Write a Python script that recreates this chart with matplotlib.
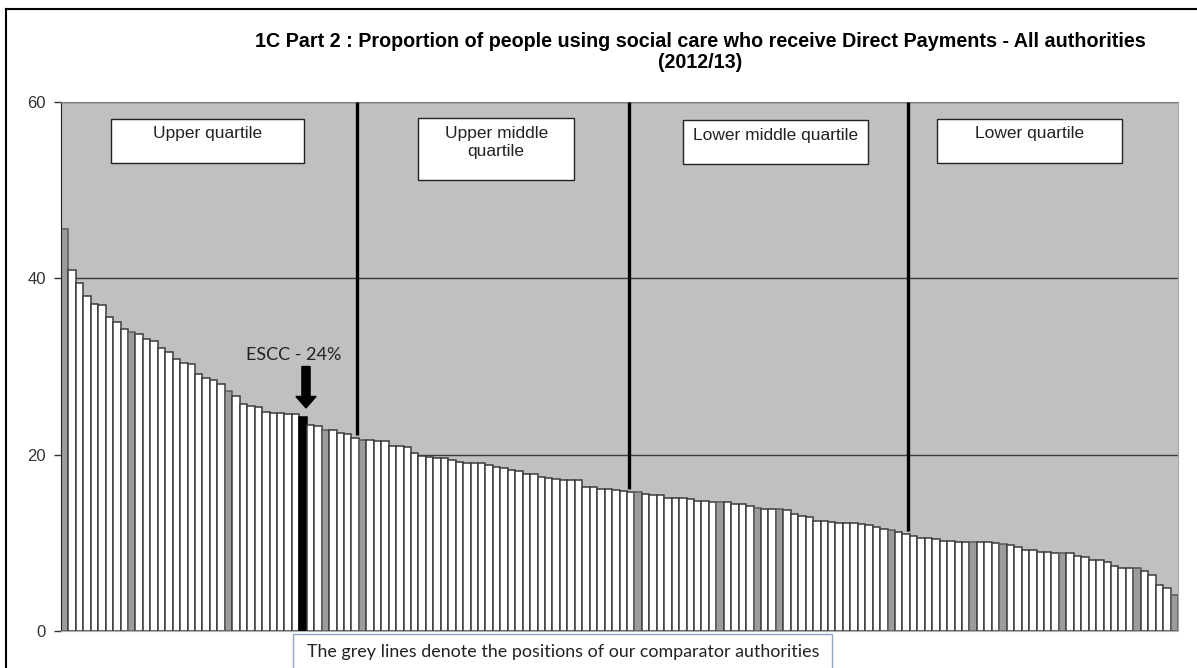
import numpy as np
import matplotlib
matplotlib.use("Agg")
from matplotlib import pyplot as plt
from matplotlib.patches import Rectangle, FancyArrow
from matplotlib.lines import Line2D

plt.rcParams['font.family'] = ['Liberation Sans', 'DejaVu Sans']

# % of social care users receiving Direct Payments, all authorities, sorted high to low
values = [
    45.6, 41.0, 39.5, 38.0, 37.1, 37.0, 35.6, 35.0, 34.2, 33.9,
    33.7, 33.1, 32.9, 32.1, 31.6, 30.8, 30.4, 30.3, 29.1, 28.7,
    28.5, 28.0, 27.2, 26.6, 25.8, 25.5, 25.4, 24.8, 24.7, 24.7,
    24.6, 24.6, 24.3, 23.4, 23.3, 22.8, 22.8, 22.5, 22.3, 21.9,
    21.7, 21.7, 21.6, 21.5, 21.0, 21.0, 20.9, 20.2, 19.9, 19.7,
    19.6, 19.6, 19.4, 19.2, 19.1, 19.0, 19.0, 18.85, 18.6, 18.5,
    18.3, 18.2, 17.8, 17.8, 17.5, 17.3, 17.2, 17.1, 17.1, 17.1,
    16.3, 16.3, 16.1, 16.1, 16.0, 15.9, 15.8, 15.8, 15.5, 15.4,
    15.4, 15.1, 15.1, 15.1, 15.0, 14.8, 14.7, 14.6, 14.6, 14.6,
    14.4, 14.4, 14.2, 13.9, 13.8, 13.8, 13.8, 13.7, 13.3, 13.1,
    12.9, 12.5, 12.5, 12.4, 12.3, 12.3, 12.3, 12.1, 12.0, 11.8,
    11.6, 11.4, 11.2, 11.0, 10.75, 10.6, 10.6, 10.4, 10.2, 10.2,
    10.1, 10.1, 10.1, 10.1, 10.1, 10.0, 9.9, 9.7, 9.5, 9.2,
    9.2, 9.0, 9.0, 8.9, 8.9, 8.8, 8.5, 8.4, 8.0, 8.0,
    7.8, 7.4, 7.2, 7.2, 7.1, 6.8, 6.4, 5.2, 4.9, 4.1,
]
# rank positions (1 = highest) of comparator authorities and of ESCC
comparator_ranks = [1, 10, 23, 36, 41, 78, 89, 94, 97, 112, 123, 127, 135, 145, 150]
escc_rank = 33
escc_label = "ESCC - 24%"

quartile_names = ["Upper quartile", "Upper middle\nquartile",
                  "Lower middle quartile", "Lower quartile"]
quartile_cuts = [39.2, 75.8, 113.2]

title = ("1C Part 2 : Proportion of people using social care who receive "
         "Direct Payments - All authorities\n(2012/13)")
note = "The grey lines denote the positions of our comparator authorities"

n = len(values)
x = np.arange(n)
colors = ['white'] * n
edges = ['#3c3c3c'] * n
for r in comparator_ranks:
    colors[r - 1] = '#9c9c9c'
    edges[r - 1] = '#5a5a5a'
colors[escc_rank - 1] = 'black'
edges[escc_rank - 1] = 'black'

fig = plt.figure(figsize=(11.97, 6.68), dpi=100)
ax = fig.add_axes([61 / 1197, 1 - 631 / 668, 1117 / 1197, 529 / 668])

ax.bar(x, values, width=1.0, color=colors, edgecolor=edges, linewidth=1.1, zorder=2)
ax.set_xlim(-0.5, n - 0.5)
ax.set_ylim(0, 60)
ax.set_facecolor('#c0c0c0')
ax.set_yticks([0, 20, 40, 60])
ax.set_xticks([])
ax.yaxis.grid(True, color='#3a3a3a', linewidth=1.0)
ax.set_axisbelow(True)
ax.tick_params(axis='y', direction='out', length=5, width=1, color='#333333',
               labelsize=12, labelcolor='#333333', pad=6)
ax.spines['left'].set_color('#222222')
ax.spines['top'].set_color('#808080')
ax.spines['right'].set_color('#a8a8a8')
ax.spines['bottom'].set_color('#b0b0b0')

# quartile dividers drop from the top down to the bar they split
for c in quartile_cuts:
    ax.vlines(c, values[int(round(c))] + 0.3, 60, color='black', linewidth=2.4, zorder=3)

# quartile label boxes (axes fractions)
boxes = [(0.0445, 0.884, 0.1733, 0.0845),
         (0.3199, 0.8526, 0.1394, 0.1177),
         (0.5566, 0.8828, 0.1661, 0.0832),
         (0.7840, 0.884, 0.1656, 0.0845)]
text_pos = [(0.1311, 0.9408), (0.3896, 0.9236), (0.6396, 0.9376), (0.8668, 0.9408)]
for (bx, by, bw, bh), (tx, ty), name in zip(boxes, text_pos, quartile_names):
    ax.add_patch(Rectangle((bx, by), bw, bh, transform=ax.transAxes, facecolor='white',
                           edgecolor='#222222', linewidth=1.0, zorder=4))
    ax.text(tx, ty, name, transform=ax.transAxes, ha='center', va='center',
            fontsize=12.5, color='#222222', zorder=5, linespacing=1.3)

# ESCC marker
ex = escc_rank - 1 + 0.4
ax.add_patch(FancyArrow(ex, 30.0, 0, -4.7, width=1.1, head_width=2.7, head_length=1.3,
                        length_includes_head=True, color='black', zorder=5))
ax.text(ex - 1.6, 31.3, escc_label, ha='center', va='center', fontsize=13,
        family=['Lato', 'DejaVu Sans'], color='#222222', zorder=5)

fig.text(0.585, 0.922, title, ha='center', va='center', fontsize=14.2,
         fontweight='bold', color='black', linespacing=1.15)

# note box under the axis
fig.add_artist(Rectangle((293 / 1197, -0.01), 539 / 1197, 0.061, transform=fig.transFigure,
                         facecolor='white', edgecolor='#8fa6c4', linewidth=1.0))
fig.text(563 / 1197, 0.024, note, ha='center', va='center', fontsize=12.9,
         family=['Lato', 'DejaVu Sans'], color='#222222')

# frame around the chart
fig.add_artist(Line2D([6 / 1197, 6 / 1197], [0, 1 - 9 / 668], transform=fig.transFigure,
                      color='black', linewidth=1.5))
fig.add_artist(Line2D([6 / 1197, 1], [1 - 9 / 668, 1 - 9 / 668], transform=fig.transFigure,
                      color='black', linewidth=1.5))

fig.savefig("out.png", dpi=100)
